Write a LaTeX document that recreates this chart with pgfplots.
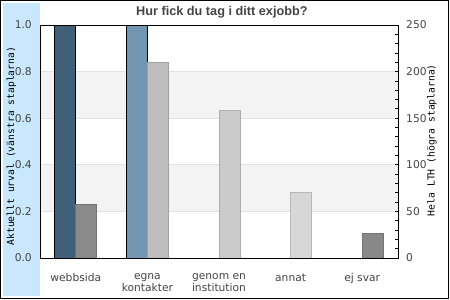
\documentclass[border=0pt]{standalone}
\usepackage{pgfplots}
\pgfplotsset{compat=1.18}
\usepackage{fontspec}
\setmainfont{DejaVu Sans}
\newfontfamily\titlefont{Liberation Sans}
\newfontfamily\labelfont{DejaVu Sans Mono}
\definecolor{band}{HTML}{F3F3F3}
\definecolor{gridgray}{HTML}{E2E2E2}
\definecolor{leftband}{HTML}{C9E7FD}
\definecolor{txt}{HTML}{444444}
\definecolor{barA}{HTML}{40607A}
\definecolor{barB}{HTML}{7396B2}
\definecolor{grA}{HTML}{8A8A8A}
\definecolor{grB}{HTML}{BDBDBD}
\definecolor{grC}{HTML}{CBCBCB}
\definecolor{grD}{HTML}{D7D7D7}
\definecolor{grE}{HTML}{888888}
\begin{document}
\begin{tikzpicture}
\path[use as bounding box] (0pt,0pt) rectangle (450pt,300pt);
\fill[leftband] (3pt,3.5pt) rectangle (40pt,297pt);
\fill[band] (40pt,88.6pt) rectangle (398pt,135.2pt);
\fill[band] (40pt,181.8pt) rectangle (398pt,228.4pt);
\begin{axis}[
  at={(40pt,42pt)}, anchor=south west,
  width=358pt, height=233pt, scale only axis,
  xmin=-0.5, xmax=4.5, ymin=0, ymax=1,
  xtick={0,1,2,3,4},
  xticklabels={webbsida,{egna\\kontakter},{genom en\\institution},annat,ej svar},
  xticklabel style={align=center, text=txt, font=\fontsize{10.7}{12}\selectfont, yshift=-8pt},
  xtick style={draw=none},
  ytick={0,0.2,0.4,0.6,0.8,1.0},
  yticklabels={0.0,0.2,0.4,0.6,0.8,1.0},
  yticklabel style={text=txt, font=\fontsize{10.7}{12}\selectfont, xshift=-4.7pt},
  ytick style={draw=none},
  ymajorgrids, major grid style={draw=gridgray, line width=0.8pt},
  axis line style={line width=0.9pt, black},
  ylabel={Aktuellt urval (vänstra staplarna)},
  ylabel style={at={(axis description cs:-0.08,0.48)}, anchor=center, font=\labelfont\fontsize{9.7}{11}\selectfont},
  title={Hur fick du tag i ditt exjobb?},
  every axis title shift=0pt,
  title style={at={(axis description cs:0.508,1.0557)}, anchor=center, font=\titlefont\bfseries\fontsize{12.7}{14}\selectfont, text=txt},
  ybar, bar width=21pt,
]
\addplot[fill=barA, draw=black, line width=0.9pt, bar shift=-10.5pt] coordinates {(0,1.0)};
\addplot[fill=barB, draw=black, line width=0.9pt, bar shift=-10.5pt] coordinates {(1,1.0)};
\end{axis}
\begin{axis}[
  at={(40pt,42pt)}, anchor=south west,
  width=358pt, height=233pt, scale only axis,
  xmin=-0.5, xmax=4.5, ymin=0, ymax=250,
  axis x line=none, axis y line*=right,
  ytick={0,50,100,150,200,250}, minor y tick num=4,
  tick align=inside, major tick length=3pt, minor tick length=3pt,
  tick style={black, line width=0.8pt},
  /pgf/number format/assume math mode=true,
  yticklabel style={text=txt, font=\fontsize{10.7}{12}\selectfont, xshift=4.7pt},
  axis line style={line width=0.9pt, black},
  ylabel={Hela LTH (högra staplarna)},
  ylabel style={at={(axis description cs:1.095,0.506)}, anchor=center, font=\labelfont\fontsize{9.7}{11}\selectfont},
  ybar, bar width=21pt,
]
\addplot[fill=grA, draw=gray!90!black, line width=0.8pt, bar shift=10.5pt] coordinates {(0,57)};
\addplot[fill=grB, draw=grB!85!black, line width=0.8pt, bar shift=10.5pt] coordinates {(1,210)};
\addplot[fill=grC, draw=grC!85!black, line width=0.8pt, bar shift=10.5pt] coordinates {(2,158)};
\addplot[fill=grD, draw=grD!85!black, line width=0.8pt, bar shift=10.5pt] coordinates {(3,70)};
\addplot[fill=grE, draw=grE!85!black, line width=0.8pt, bar shift=10.5pt] coordinates {(4,26)};
\end{axis}
\draw[black, line width=1pt] (0.5pt,1.5pt) rectangle (448.5pt,299.5pt);
\end{tikzpicture}
\end{document}
